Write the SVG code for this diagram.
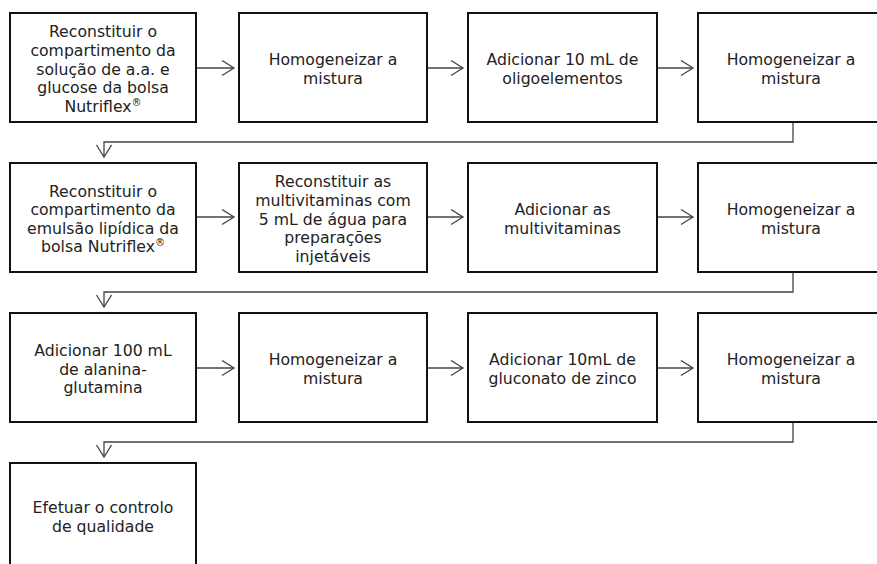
<svg xmlns="http://www.w3.org/2000/svg" width="877" height="564" viewBox="0 0 877 564">
<defs>
<style>
.box{fill:#fff;stroke:#111;stroke-width:2}
.t{font-family:"DejaVu Sans",Verdana,sans-serif;font-size:15.7px;fill:#222;text-anchor:middle}
.c{fill:none;stroke:#444;stroke-width:1.3}
.sup{font-size:10px}
</style>
<marker id="ah" markerUnits="userSpaceOnUse" markerWidth="16" markerHeight="18" refX="13" refY="8" orient="auto" viewBox="0 0 16 18">
<path d="M1,0.5 L13,8 L1,15.5" fill="none" stroke="#444" stroke-width="1.3"/>
</marker>
</defs>
<rect width="877" height="564" fill="#fff"/>
<g id="connectors">
<path class="c" d="M197,68 H234" marker-end="url(#ah)"/>
<path class="c" d="M427,68 H463" marker-end="url(#ah)"/>
<path class="c" d="M657,68 H693" marker-end="url(#ah)"/>
<path class="c" d="M793,122 V142 H104 V157" marker-end="url(#ah)"/>
<path class="c" d="M197,217 H234" marker-end="url(#ah)"/>
<path class="c" d="M427,217 H463" marker-end="url(#ah)"/>
<path class="c" d="M657,217 H693" marker-end="url(#ah)"/>
<path class="c" d="M793,272 V292 H104 V307" marker-end="url(#ah)"/>
<path class="c" d="M197,368 H234" marker-end="url(#ah)"/>
<path class="c" d="M427,368 H463" marker-end="url(#ah)"/>
<path class="c" d="M657,368 H693" marker-end="url(#ah)"/>
<path class="c" d="M793,422 V442 H104 V457" marker-end="url(#ah)"/>
</g>
<g id="n1"><rect class="box" x="10" y="13" width="186" height="109"/>
<text class="t" x="103"><tspan x="103" y="37.3">Reconstituir o</tspan><tspan x="103" y="55.9">compartimento da</tspan><tspan x="103" y="74.5">solução de a.a. e</tspan><tspan x="103" y="93.1">glucose da bolsa</tspan><tspan x="103" y="111.7">Nutriflex<tspan class="sup" dy="-6">®</tspan></tspan></text></g>
<g id="n2"><rect class="box" x="239" y="13" width="188" height="109"/>
<text class="t"><tspan x="333" y="65.2">Homogeneizar a</tspan><tspan x="333" y="83.8">mistura</tspan></text></g>
<g id="n3"><rect class="box" x="468" y="13" width="189" height="109"/>
<text class="t"><tspan x="562.5" y="65.2">Adicionar 10 mL de</tspan><tspan x="562.5" y="83.8">oligoelementos</tspan></text></g>
<g id="n4"><rect class="box" x="698" y="13" width="188" height="109"/>
<text class="t"><tspan x="791" y="65.2">Homogeneizar a</tspan><tspan x="791" y="83.8">mistura</tspan></text></g>
<g id="n5"><rect class="box" x="10" y="163" width="186" height="109"/>
<text class="t"><tspan x="103" y="196.6">Reconstituir o</tspan><tspan x="103" y="215.2">compartimento da</tspan><tspan x="103" y="233.8">emulsão lipídica da</tspan><tspan x="103" y="252.4">bolsa Nutriflex<tspan class="sup" dy="-6">®</tspan></tspan></text></g>
<g id="n6"><rect class="box" x="239" y="163" width="188" height="109"/>
<text class="t"><tspan x="333" y="187.3">Reconstituir as</tspan><tspan x="333" y="205.9">multivitaminas com</tspan><tspan x="333" y="224.5">5 mL de água para</tspan><tspan x="333" y="243.1">preparações</tspan><tspan x="333" y="261.7">injetáveis</tspan></text></g>
<g id="n7"><rect class="box" x="468" y="163" width="189" height="109"/>
<text class="t"><tspan x="562.5" y="215.2">Adicionar as</tspan><tspan x="562.5" y="233.8">multivitaminas</tspan></text></g>
<g id="n8"><rect class="box" x="698" y="163" width="188" height="109"/>
<text class="t"><tspan x="791" y="215.2">Homogeneizar a</tspan><tspan x="791" y="233.8">mistura</tspan></text></g>
<g id="n9"><rect class="box" x="10" y="313" width="186" height="109"/>
<text class="t"><tspan x="103" y="356">Adicionar 100 mL</tspan><tspan x="103" y="374.6">de alanina-</tspan><tspan x="103" y="393.2">glutamina</tspan></text></g>
<g id="n10"><rect class="box" x="239" y="313" width="188" height="109"/>
<text class="t"><tspan x="333" y="365.2">Homogeneizar a</tspan><tspan x="333" y="383.8">mistura</tspan></text></g>
<g id="n11"><rect class="box" x="468" y="313" width="189" height="109"/>
<text class="t"><tspan x="562.5" y="365.2">Adicionar 10mL de</tspan><tspan x="562.5" y="383.8">gluconato de zinco</tspan></text></g>
<g id="n12"><rect class="box" x="698" y="313" width="188" height="109"/>
<text class="t"><tspan x="791" y="365.2">Homogeneizar a</tspan><tspan x="791" y="383.8">mistura</tspan></text></g>
<g id="n13"><rect class="box" x="10" y="463" width="186" height="109"/>
<text class="t"><tspan x="103" y="513.3">Efetuar o controlo</tspan><tspan x="103" y="531.9">de qualidade</tspan></text></g>
</svg>
